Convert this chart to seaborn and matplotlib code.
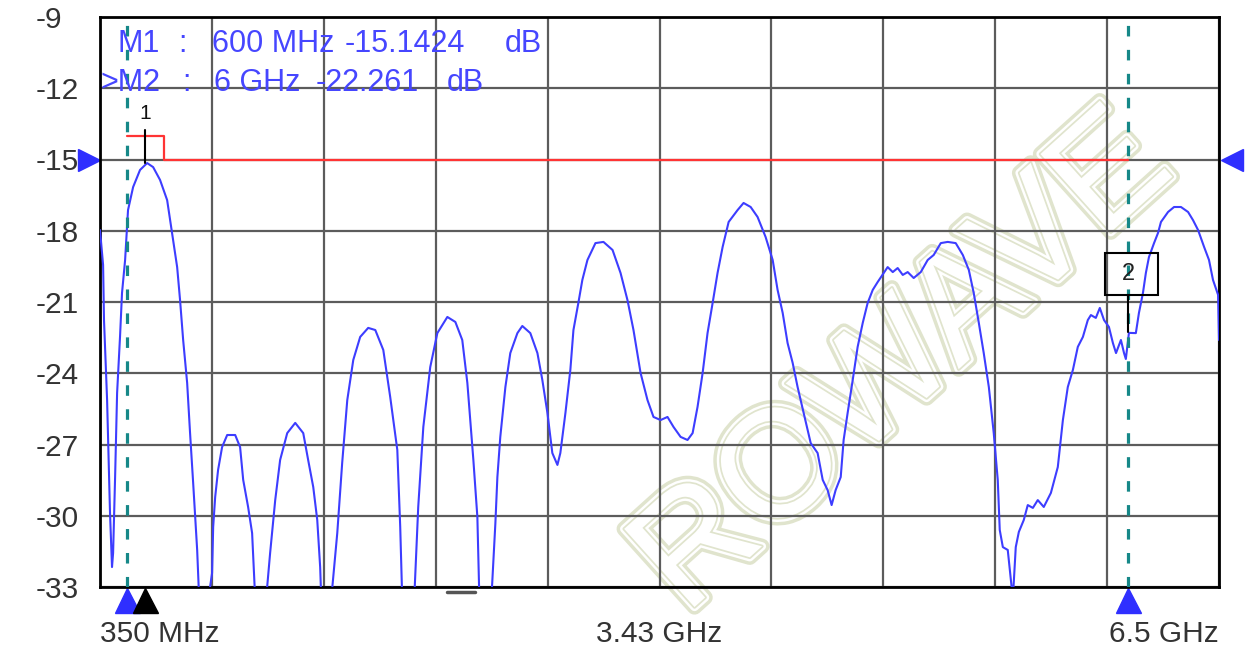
import numpy as np
import pandas as pd
import matplotlib
matplotlib.use("Agg")
import matplotlib.pyplot as plt
import matplotlib.patheffects as pe
from matplotlib.patches import Rectangle
import seaborn as sns

# trace (MHz, dB)
freq_mhz = [350, 367, 372, 389, 405, 416, 422, 433, 444, 460, 471, 488, 504, 532, 570, 609,
            642, 680, 719, 746, 774, 790, 807, 829, 845, 862, 884, 895,
            939, 955, 966, 972, 983, 999, 1021, 1049, 1093, 1120, 1137, 1164, 1186, 1192, 1203,
            1263, 1285, 1313, 1340, 1379, 1423, 1467, 1494, 1522, 1544, 1560, 1566,
            1621, 1654, 1681, 1709, 1742, 1780, 1824, 1863, 1907, 1945, 1984, 2000, 2011,
            2077, 2099, 2127, 2165, 2204, 2259, 2303, 2341, 2369, 2402, 2424, 2435,
            2501, 2523, 2534, 2550, 2578, 2605, 2644, 2671, 2715, 2754, 2781, 2809, 2836, 2864,
            2880, 2908, 2935, 2952, 2979, 3001, 3029, 3073, 3117, 3167, 3211, 3249, 3282, 3321,
            3359, 3392, 3431, 3469, 3502, 3541, 3579, 3607, 3634, 3662, 3689, 3717, 3744, 3772,
            3805, 3854, 3887, 3926, 3964, 4008, 4047, 4074, 4102, 4129, 4157, 4184, 4217, 4256,
            4294, 4322, 4349, 4371, 4393, 4421, 4437, 4459, 4487, 4514, 4542, 4569, 4597, 4624,
            4657, 4679, 4707, 4734, 4762, 4789, 4822, 4861, 4899, 4932, 4971, 5009, 5053, 5092,
            5125, 5152, 5180, 5207, 5235, 5262, 5284, 5295, 5312, 5339, 5356, 5367, 5383, 5400,
            5427, 5449, 5477, 5504, 5537, 5576, 5614, 5642, 5669, 5697, 5724, 5752, 5779, 5796,
            5823, 5845, 5868, 5895, 5917, 5934, 5961, 5978, 5988, 6005, 6043, 6060, 6082, 6098,
            6115, 6143, 6165, 6181, 6220, 6253, 6291, 6330, 6357, 6385, 6418, 6445, 6467, 6495,
            6500]
s_db = [-17.97, -19.44, -21.76, -25.13, -29.88, -32.16, -31.57, -28.37, -24.83, -22.47, -20.62,
        -19.23, -17.13, -16.16, -15.44, -15.15, -15.32, -15.86, -16.71, -18.09, -19.53, -20.92,
        -22.60, -24.41, -26.52, -28.62, -31.44, -33.5,
        -33.5, -33.0, -32.41, -30.47, -29.21, -28.07, -27.11, -26.60, -26.60, -27.11, -28.49,
        -29.63, -30.73, -31.74, -33.5,
        -33.5, -31.57, -29.34, -27.65, -26.52, -26.09, -26.52, -27.65, -28.79, -30.18, -32.16, -33.5,
        -33.5, -30.73, -27.78, -25.13, -23.44, -22.47, -22.09, -22.18, -23.02, -25.00, -27.23,
        -30.47, -33.5,
        -33.5, -29.63, -26.26, -23.74, -22.31, -21.63, -21.84, -22.60, -24.41, -27.65, -30.05, -33.5,
        -33.5, -30.31, -28.37, -26.68, -24.58, -23.15, -22.31, -22.01, -22.31, -23.15, -24.28,
        -25.67, -27.36, -27.86, -27.36, -25.67, -23.86, -22.18, -21.04, -20.07, -19.23, -18.52,
        -18.47, -18.81, -19.78, -20.92, -22.18, -23.99, -25.13, -25.84, -25.97, -25.84, -26.26,
        -26.68, -26.81, -26.52, -25.42, -23.99, -22.31, -21.04, -19.78, -18.68, -17.63, -17.13,
        -16.83, -17.00, -17.42, -18.26, -19.23, -20.49, -21.46, -22.73, -23.57, -24.58, -25.67,
        -26.94, -27.36, -28.49, -28.92, -29.55, -28.92, -28.37, -26.81, -25.67, -24.28, -22.89,
        -21.88, -21.04, -20.49, -20.16, -19.78, -19.53, -19.74, -19.57, -19.86, -19.74, -19.99,
        -19.74, -19.23, -19.02, -18.52, -18.47, -18.52, -19.02, -19.65, -20.62, -21.88, -23.15,
        -24.58, -26.52, -28.49, -30.60, -31.32, -31.44, -32.71, -33.5, -31.32, -30.68, -30.18,
        -29.55, -29.67, -29.34, -29.63, -29.04, -27.95, -25.97, -24.58, -23.86, -22.89, -22.47,
        -21.76, -21.55, -21.67, -21.25, -21.76, -22.05, -22.73, -23.15, -22.60, -23.15, -23.4,
        -22.3, -22.31, -21.46, -20.62, -19.78, -19.11, -18.52, -18.09, -17.63, -17.21, -17.00,
        -17.00, -17.21, -17.55, -17.97, -18.68, -19.23, -20.07, -20.70, -22.6]

# limit line and markers
lim_freq = [500, 700, 700, 6000]
lim_db = [-14, -14, -15, -15]
marker_names = ["M1", ">M2"]
marker_freq_txt = ["600 MHz", "6 GHz"]
marker_freq = [600, 6000]
marker_db = [-15.1424, -22.261]
cursor_freq = [500, 6000]
ref_level = -15

f_start, f_stop = 350, 6500
y_ticks = [-33, -30, -27, -24, -21, -18, -15, -12, -9]
x_labels = ["350 MHz", "", "", "", "", "3.43 GHz", "", "", "", "", "6.5 GHz"]

W, H = 1247, 652
df = pd.DataFrame({"freq": freq_mhz, "db": s_db})

sns.set_theme(style="white")
plt.rcParams["font.family"] = ["Liberation Sans", "DejaVu Sans"]

fig = plt.figure(figsize=(W / 100, H / 100), dpi=100)
fig.patch.set_facecolor("white")
ax = fig.add_axes([100 / W, 1 - 587 / H, 1119 / W, 570 / H])
ax.set_facecolor("none")

# watermark behind everything
fig.text(905 / W, 1 - 365 / H, "ROWAVE", rotation=42, fontsize=110, color="white",
         ha="center", va="center", zorder=-1,
         path_effects=[pe.Stroke(linewidth=11, foreground="#e0e4cd"),
                       pe.Stroke(linewidth=6, foreground="white"),
                       pe.Stroke(linewidth=2.5, foreground="#e0e4cd"),
                       pe.Normal()])

sns.lineplot(data=df, x="freq", y="db", ax=ax, color="#3d3dff", lw=1.5,
             estimator=None, sort=False, zorder=4)

ax.set_xlim(f_start, f_stop)
ax.set_ylim(y_ticks[0], y_ticks[-1])
ax.set_xticks(np.linspace(f_start, f_stop, 11), x_labels)
ax.set_yticks(y_ticks, [str(v) for v in y_ticks])
ax.grid(True, color="#5c5c5c", lw=1.6, zorder=1)
ax.set_axisbelow(True)
ax.set_xlabel("")
ax.set_ylabel("")
ax.tick_params(length=0, labelsize=21.5, labelcolor="#333333")
ax.tick_params(axis="y", pad=46)
ax.tick_params(axis="x", pad=24)
for t in ax.get_yticklabels():
    t.set_horizontalalignment("left")
xt = ax.get_xticklabels()
xt[0].set_horizontalalignment("left")
xt[-1].set_horizontalalignment("right")
for s in ax.spines.values():
    s.set_color("black")
    s.set_linewidth(2)

# limit line
ax.plot(lim_freq, lim_db, color="#ff3434", lw=1.6, zorder=3)

# cursor lines
for f in cursor_freq:
    ax.axvline(f, color="#168888", lw=2.3, ls=(0, (3.3, 4.2)), zorder=5)

# marker 1
ax.plot([marker_freq[0]] * 2, [marker_db[0], -13.75], color="black", lw=1.5, zorder=5)
ax.text(marker_freq[0], -13.05, "1", ha="center", va="center", fontsize=15, color="#111111")

# marker 2 box
ax.add_patch(Rectangle((5873, -20.71), 291, 1.77, fill=False, ec="black", lw=1.5, zorder=6))
ax.text(marker_freq[1], -19.8, "2", ha="center", va="center", fontsize=17, color="#222222", zorder=6)
ax.plot([marker_freq[1]] * 2, [-20.71, marker_db[1]], color="black", lw=1.5, zorder=5)

# reference level arrows
ytr = ax.get_yaxis_transform()
ax.plot([-0.0098], [ref_level], marker=">", ms=16, color="#2f2fff", transform=ytr, clip_on=False)
ax.plot([1.0116], [ref_level], marker="<", ms=16, color="#2f2fff", transform=ytr, clip_on=False)

# bottom arrows
xtr = ax.get_xaxis_transform()
ax.plot(cursor_freq, [-0.023] * 2, marker="^", ms=18, ls="none", color="#2f2fff",
        transform=xtr, clip_on=False)
ax.plot([marker_freq[0]], [-0.023], marker="^", ms=18, color="black", transform=xtr, clip_on=False)
ax.plot([2259, 2413], [-0.009] * 2, color="#555555", lw=2.5, transform=xtr, clip_on=False)

# marker readout
cols = [[117, 178, 212, 345, 505], [100, 182, 214, 316, 447]]
rows_y = [44, 83]
for i in range(2):
    parts = [marker_names[i], ":", marker_freq_txt[i], f"{marker_db[i]:g}", "dB"]
    for x, p in zip(cols[i], parts):
        fig.text(x / W, 1 - rows_y[i] / H, p, ha="left", va="center", fontsize=22,
                 color="#4646ff", zorder=10)

fig.savefig("out.png", dpi=100)
